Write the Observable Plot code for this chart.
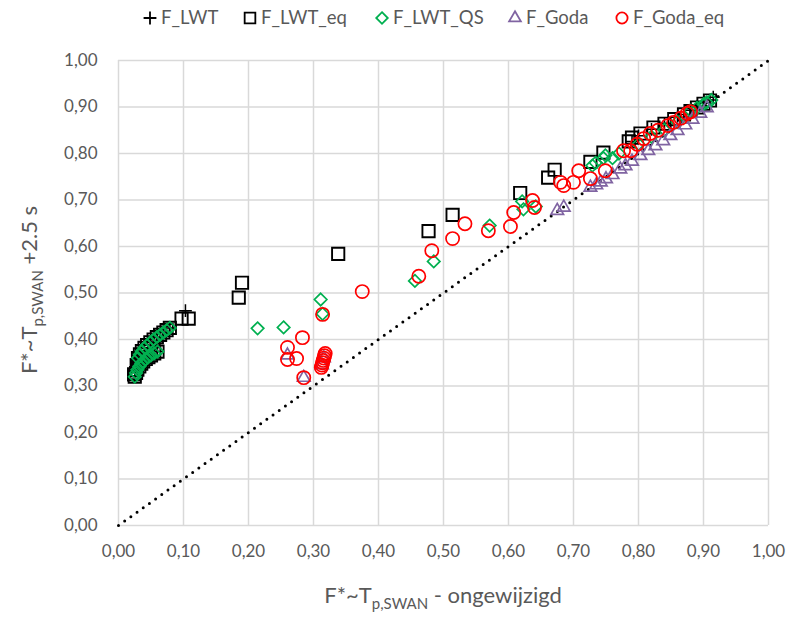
<!DOCTYPE html>
<html><head><meta charset="utf-8">
<script src="https://cdn.jsdelivr.net/npm/d3@7"></script>
<script src="https://cdn.jsdelivr.net/npm/@observablehq/plot@0.6"></script>
<style>body{margin:0;background:#fff;} #chart svg{display:block;}</style>
</head><body><div id="chart"></div>
<script>
// ---- data ----
const seriesNames = ["F_LWT", "F_LWT_eq", "F_LWT_QS", "F_Goda", "F_Goda_eq"];
const seriesColors = ["#000000", "#000000", "#00B050", "#8064A2", "#FF0000"];
const seriesSymbols = ["plus", "square2", "diamond2", "triangle2", "circle"];

const xTicks = [0, 0.1, 0.2, 0.3, 0.4, 0.5, 0.6, 0.7, 0.8, 0.9, 1.0];
const yTicks = [0, 0.1, 0.2, 0.3, 0.4, 0.5, 0.6, 0.7, 0.8, 0.9, 1.0];
const diagonal = [0, 1];

const lwtX = [0.025,0.029,0.035,0.042,0.050,0.060,0.033,0.040,0.049,0.059,0.069,0.079,0.103,
  0.790,0.800,0.820,0.840,0.860,0.870,0.880,0.890,0.900,0.910,0.915];
const lwtY = [0.320,0.335,0.348,0.358,0.366,0.374,0.368,0.382,0.394,0.405,0.415,0.425,0.462,
  0.826,0.838,0.852,0.865,0.878,0.884,0.893,0.900,0.908,0.915,0.921];

const lwtEqX = [0.024,0.025,0.027,0.028,0.029,0.032,0.032,0.035,0.038,0.042,0.046,0.050,0.055,0.060,
  0.030,0.033,0.036,0.040,0.044,0.049,0.054,0.059,0.064,0.069,0.074,0.079,
  0.097,0.108,0.185,0.190,0.338,0.477,0.514,0.618,0.661,0.671,0.726,0.746,0.785,0.790,0.803,0.823,
  0.840,0.855,0.870,0.880,0.890,0.900,0.910];
const lwtEqY = [0.325,0.320,0.328,0.345,0.335,0.342,0.358,0.348,0.353,0.358,0.362,0.366,0.370,0.374,
  0.360,0.368,0.375,0.382,0.388,0.394,0.400,0.405,0.410,0.415,0.420,0.425,
  0.445,0.445,0.490,0.522,0.584,0.633,0.668,0.715,0.748,0.765,0.782,0.802,0.826,0.834,0.843,0.856,
  0.864,0.874,0.884,0.891,0.899,0.907,0.914];

const lwtQsX = [0.025,0.027,0.029,0.032,0.035,0.038,0.042,0.046,0.050,0.055,0.060,
  0.030,0.033,0.036,0.040,0.044,0.049,0.054,0.059,0.064,0.069,0.074,0.079,
  0.214,0.254,0.311,0.314,0.456,0.485,0.571,0.621,0.623,0.642,
  0.729,0.734,0.746,0.749,0.760,0.770,0.800,0.820,0.840,0.860,0.880,0.890,0.900,0.905,0.912];
const lwtQsY = [0.320,0.328,0.335,0.342,0.348,0.353,0.358,0.362,0.366,0.370,0.374,
  0.360,0.368,0.375,0.382,0.388,0.394,0.400,0.405,0.410,0.415,0.420,0.425,
  0.424,0.426,0.486,0.455,0.526,0.568,0.645,0.697,0.680,0.686,
  0.774,0.780,0.790,0.796,0.790,0.800,0.820,0.836,0.851,0.868,0.892,0.898,0.906,0.910,0.915];

const godaX = [0.260,0.285,0.313,0.316,0.675,0.685,0.726,0.735,0.742,0.750,0.760,0.772,0.780,0.790,
  0.803,0.815,0.826,0.838,0.849,0.860,0.872,0.883,0.895,0.905];
const godaY = [0.366,0.318,0.345,0.360,0.677,0.684,0.727,0.732,0.738,0.745,0.754,0.766,0.773,0.783,
  0.795,0.806,0.816,0.827,0.838,0.849,0.861,0.873,0.886,0.898];

const godaEqX = [0.260,0.260,0.274,0.283,0.285,0.312,0.313,0.314,0.315,0.316,0.317,0.318,0.314,0.375,
  0.462,0.482,0.514,0.533,0.569,0.603,0.608,0.637,0.640,0.680,0.685,0.700,0.708,0.726,0.749,
  0.777,0.788,0.798,0.808,0.818,0.830,0.845,0.854,0.865,0.875,0.880];
const godaEqY = [0.383,0.357,0.359,0.404,0.318,0.340,0.345,0.350,0.355,0.360,0.365,0.370,0.454,0.503,
  0.536,0.591,0.617,0.649,0.634,0.643,0.673,0.699,0.684,0.738,0.731,0.738,0.763,0.746,0.763,
  0.806,0.806,0.820,0.832,0.843,0.850,0.860,0.867,0.876,0.886,0.890];

const seriesX = [lwtX, lwtEqX, lwtQsX, godaX, godaEqX];
const seriesY = [lwtY, lwtEqY, lwtQsY, godaY, godaEqY];

// marker radii (Plot r) per series
const seriesR = [4.2, 7.8, 5.6, 6.0, 6.6];
const seriesSW = [1.5, 1.9, 1.7, 1.7, 1.7];

const rows = seriesNames.map((name, i) => seriesX[i].map((x, j) => ({series: name, x, y: seriesY[i][j]})));

const fmt = d => d.toFixed(2).replace(".", ",");
const FONT = "Lato, 'Open Sans', sans-serif";
const GRAY = "#595959";

const chart = Plot.plot({
  width: 787, height: 617,
  marginLeft: 118, marginRight: 19, marginTop: 60, marginBottom: 92,
  x: {domain: [0, 1]},
  y: {domain: [0, 1]},
  style: {fontFamily: FONT, fontSize: "17px", color: GRAY, background: "#fff"},
  marks: [
    Plot.gridX(xTicks, {stroke: "#d9d9d9", strokeOpacity: 1, strokeWidth: 1.5}),
    Plot.gridY(yTicks, {stroke: "#d9d9d9", strokeOpacity: 1, strokeWidth: 1.5}),
    Plot.axisX(xTicks, {tickSize: 0, tickPadding: 19, tickFormat: fmt, label: null, fontSize: 17, fill: GRAY}),
    Plot.axisY(yTicks, {tickSize: 0, tickPadding: 21, tickFormat: fmt, label: null, fontSize: 17, fill: GRAY}),
    Plot.line(diagonal, {x: d => d, y: d => d, stroke: "#000", strokeWidth: 3, strokeDasharray: "0 7.6", strokeLinecap: "round"}),
    ...rows.map((data, i) => Plot.dot(data, {
      x: "x", y: "y", symbol: () => seriesSymbols[i], r: seriesR[i],
      stroke: seriesColors[i], strokeWidth: seriesSW[i], fill: "none"
    }))
  ]
});

const svg = d3.select(chart);

// legend
const legendSym = {plus: d3.symbolPlus, square2: d3.symbolSquare2, diamond2: d3.symbolDiamond2, triangle2: d3.symbolTriangle2, circle: d3.symbolCircle};
const legendSymX = [150, 250, 382, 515, 622];
const legendTextX = [161, 261, 393, 526, 633];
const lg = svg.append("g").attr("font-family", FONT).attr("font-size", 18.5).attr("fill", GRAY).attr("text-anchor", "start");
seriesNames.forEach((name, i) => {
  const r = [4.2, 6.8, 5.2, 5.6, 5.6][i];
  lg.append("path")
    .attr("transform", `translate(${legendSymX[i]},18)`)
    .attr("d", d3.symbol(legendSym[seriesSymbols[i]], Math.PI * r * r)())
    .attr("fill", "none").attr("stroke", seriesColors[i]).attr("stroke-width", 1.8);
  lg.append("text").attr("x", legendTextX[i]).attr("y", 18).attr("dy", "0.35em").attr("text-anchor", "start").text(name);
});

// axis titles
const xt = svg.append("text").attr("x", 443).attr("y", 603).attr("text-anchor", "middle")
  .attr("font-family", FONT).attr("font-size", 22).attr("fill", GRAY);
xt.append("tspan").text("F*~T");
xt.append("tspan").attr("font-size", 15).attr("dy", 6).text("p,SWAN");
xt.append("tspan").attr("dy", -6).text(" - ongewijzigd");

const yt = svg.append("text").attr("transform", "translate(37,290) rotate(-90)").attr("text-anchor", "middle")
  .attr("font-family", FONT).attr("font-size", 22).attr("fill", GRAY);
yt.append("tspan").text("F*~T");
yt.append("tspan").attr("font-size", 15).attr("dy", 6).text("p,SWAN");
yt.append("tspan").attr("dy", -6).text(" +2.5 s");

document.getElementById("chart").append(chart);
</script>
</body></html>
